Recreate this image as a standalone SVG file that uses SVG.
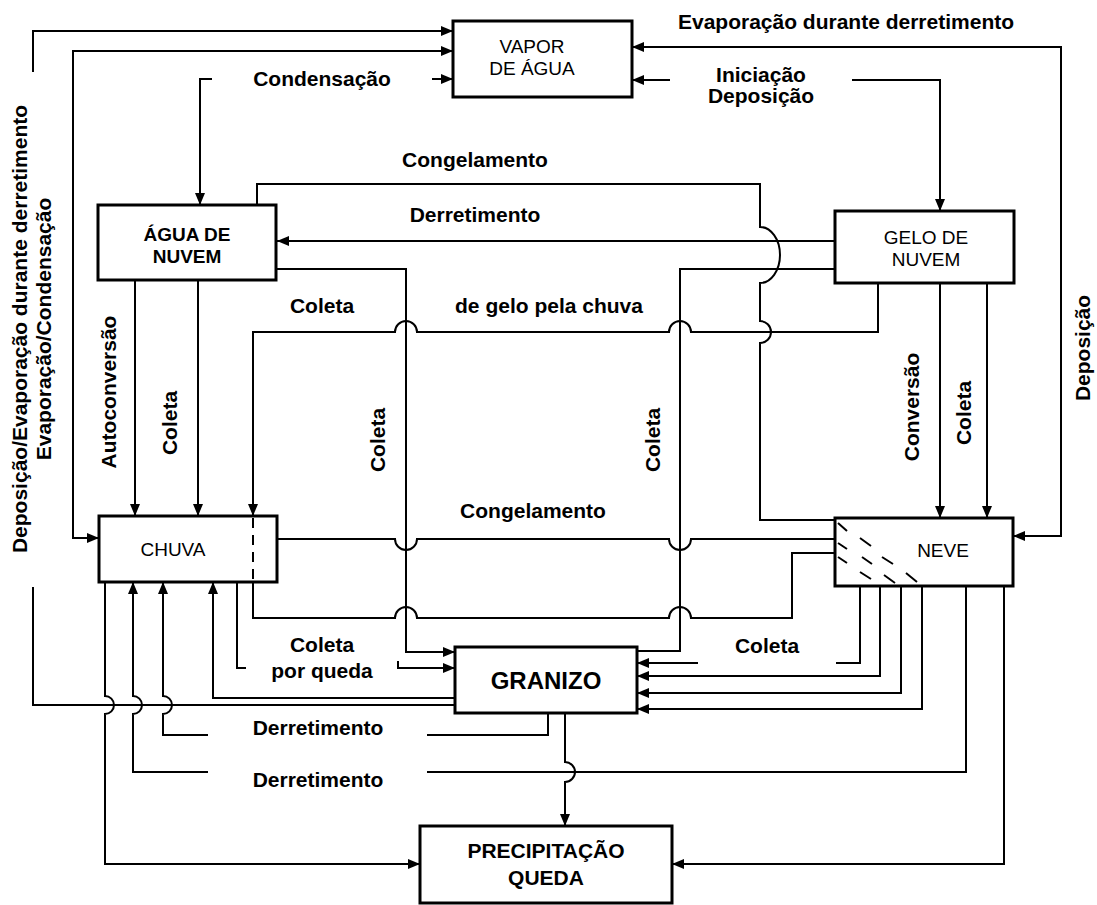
<svg xmlns="http://www.w3.org/2000/svg" width="1097" height="905" viewBox="0 0 1097 905">
<style>
.box{fill:#fff;stroke:#000;stroke-width:3}
.ln{fill:none;stroke:#000;stroke-width:2}
.a{marker-end:url(#ah)}
.b{marker-start:url(#as)}
.t{font-family:"Liberation Sans",Arial,sans-serif;font-size:21px;font-weight:bold;fill:#000;text-anchor:middle}
.n{font-family:"Liberation Sans",Arial,sans-serif;font-size:19px;fill:#000;text-anchor:middle}
.nb{font-weight:bold}
.big{font-size:24px}
.pq{font-size:21px}
.hatch{fill:none;stroke:#000;stroke-width:2}
</style>
<defs>
<marker id="ah" viewBox="0 0 12 10" refX="12" refY="5" markerWidth="12" markerHeight="10" markerUnits="userSpaceOnUse" orient="auto"><path d="M0,0L12,5L0,10z" fill="#000"/></marker>
<marker id="as" viewBox="0 0 12 10" refX="12" refY="5" markerWidth="12" markerHeight="10" markerUnits="userSpaceOnUse" orient="auto-start-reverse"><path d="M0,0L12,5L0,10z" fill="#000"/></marker>
</defs>
<rect width="1097" height="905" fill="#fff"/>

<g id="connectors">
<!-- GRANIZO -> VAPOR (left outer) -->
<path class="ln a" d="M455,705 L33,705 L33,587 M33,72 L33,31 L453,31"/>
<!-- VAPOR <-> CHUVA -->
<path class="ln a b" d="M453,51 L73,51 L73,538 L99,538"/>
<!-- Condensacao -->
<path class="ln a" d="M432,79 L453,79"/>
<path class="ln a" d="M212,79 L200,79 L200,205"/>
<!-- Evaporacao durante derretimento / Deposicao -->
<path class="ln a b" d="M632,47 L1061,47 L1061,536 L1013,536"/>
<!-- Iniciacao Deposicao -->
<path class="ln a" d="M670,80 L632,80"/>
<path class="ln a" d="M852,80 L940,80 L940,211"/>
<!-- Congelamento top -->
<path class="ln" d="M257,205 L257,184 L760,184 L760,227 A20,28 0 0 1 760,283 L760,321 A11,11 0 0 1 760,343 L760,520 L835,520"/>
<!-- Derretimento GELO -> AGUA -->
<path class="ln a" d="M835,241 L277,241"/>
<!-- AGUA -> GRANIZO coleta -->
<path class="ln a" d="M277,269 L406,269 L406,652 L455,652"/>
<!-- GELO -> GRANIZO coleta -->
<path class="ln" d="M835,269 L680,269 L680,651 L637,651"/>
<!-- Coleta de gelo pela chuva -->
<path class="ln a" d="M878,283 L878,332 L691,332 A11,11 0 0 0 669,332 L417,332 A11,11 0 0 0 395,332 L253,332 L253,516"/>
<!-- lower line CHUVA - NEVE -->
<path class="ln" d="M835,553 L792,553 L792,618 L691,618 A11,11 0 0 0 669,618 L417,618 A11,11 0 0 0 395,618 L253,618 L253,582"/>
<!-- Congelamento CHUVA - NEVE -->
<path class="ln" d="M277,539 L395,539 A11,11 0 0 0 417,539 L669,539 A11,11 0 0 0 691,539 L835,539"/>
<!-- AGUA -> CHUVA -->
<path class="ln a" d="M135,280 L135,516"/>
<path class="ln a" d="M198,280 L198,516"/>
<!-- GELO -> NEVE -->
<path class="ln a" d="M940,283 L940,518"/>
<path class="ln a" d="M987,283 L987,518"/>
<!-- NEVE -> GRANIZO coleta -->
<path class="ln a" d="M860,586 L860,663 L836,663 M698,663 L637,663"/>
<path class="ln a" d="M880,586 L880,676 L637,676"/>
<path class="ln a" d="M901,586 L901,693 L637,693"/>
<path class="ln a" d="M922,586 L922,709 L637,709"/>
<!-- Derretimento 2: NEVE -> CHUVA -->
<path class="ln a" d="M966,586 L966,772 L427,772 M208,772 L133,772 L133,714 A9,9 0 0 0 133,696 L133,582"/>
<!-- Derretimento 1: GRANIZO -> CHUVA -->
<path class="ln a" d="M548,713 L548,735 L427,735 M208,735 L163,735 L163,714 A9,9 0 0 0 163,696 L163,582"/>
<!-- GRANIZO -> CHUVA -->
<path class="ln a" d="M455,698 L213,698 L213,582"/>
<!-- Coleta por queda -->
<path class="ln a" d="M237,582 L237,668 L246,668 M398,661 L398,668 L455,668"/>
<!-- CHUVA -> PRECIPITACAO -->
<path class="ln a" d="M105,582 L105,696 A9,9 0 0 1 105,714 L105,864 L420,864"/>
<!-- GRANIZO -> PRECIPITACAO -->
<path class="ln a" d="M565,713 L565,762 A10,10 0 0 1 565,782 L565,826"/>
<!-- NEVE -> PRECIPITACAO -->
<path class="ln a" d="M1004,586 L1004,864 L672,864"/>
</g>

<g id="vapor">
<rect class="box" x="453" y="21" width="179" height="76"/>
<text class="n" x="532" y="53">VAPOR</text>
<text class="n" x="532" y="75">DE ÁGUA</text>
</g>
<g id="agua">
<rect class="box" x="98" y="205" width="178" height="75"/>
<text class="n nb" x="187" y="241">ÁGUA DE</text>
<text class="n nb" x="187" y="263">NUVEM</text>
</g>
<g id="gelo">
<rect class="box" x="835" y="211" width="179" height="72"/>
<text class="n" x="926" y="244">GELO DE</text>
<text class="n" x="926" y="266">NUVEM</text>
</g>
<g id="chuva">
<rect class="box" x="99" y="516" width="178" height="66"/>
<path class="ln" stroke-dasharray="10,7" d="M253,518 L253,582"/>
<text class="n" x="173" y="556">CHUVA</text>
</g>
<g id="neve">
<rect class="box" x="835" y="518" width="178" height="68"/>
<path class="hatch" d="M838,523 l9,8 M838,543 l9,6 M838,557 l9,6 M860,538 l11,8 M862,557 l10,7 M860,572 l11,7 M882,557 l11,7 M884,575 l11,8 M906,573 l11,9"/>
<text class="n" x="943" y="557">NEVE</text>
</g>
<g id="granizo">
<rect class="box" x="455" y="647" width="182" height="66"/>
<text class="n nb big" x="546" y="689">GRANIZO</text>
</g>
<g id="precipitacao">
<rect class="box" x="420" y="826" width="252" height="77"/>
<text class="n nb pq" x="546" y="858">PRECIPITAÇÃO</text>
<text class="n nb pq" x="546" y="885">QUEDA</text>
</g>

<g id="labels">
<text class="t" x="846" y="29">Evaporação durante derretimento</text>
<text class="t" x="322" y="86">Condensação</text>
<text class="t" x="761" y="82">Iniciação</text>
<text class="t" x="761" y="103">Deposição</text>
<text class="t" x="475" y="167">Congelamento</text>
<text class="t" x="475" y="222">Derretimento</text>
<text class="t" x="322" y="313">Coleta</text>
<text class="t" x="549" y="313">de gelo pela chuva</text>
<text class="t" x="533" y="518">Congelamento</text>
<text class="t" x="322" y="652">Coleta</text>
<text class="t" x="322" y="678">por queda</text>
<text class="t" x="767" y="653">Coleta</text>
<text class="t" x="318" y="735">Derretimento</text>
<text class="t" x="318" y="787">Derretimento</text>
<text class="t" transform="translate(27,329) rotate(-90)">Deposição/Evaporação durante derretimento</text>
<text class="t" transform="translate(51,329) rotate(-90)">Evaporação/Condensação</text>
<text class="t" transform="translate(116,392) rotate(-90)">Autoconversão</text>
<text class="t" transform="translate(177,423) rotate(-90)">Coleta</text>
<text class="t" transform="translate(385,440) rotate(-90)">Coleta</text>
<text class="t" transform="translate(660,440) rotate(-90)">Coleta</text>
<text class="t" transform="translate(919,407) rotate(-90)">Conversão</text>
<text class="t" transform="translate(971,413) rotate(-90)">Coleta</text>
<text class="t" transform="translate(1090,348) rotate(-90)">Deposição</text>
</g>
</svg>
